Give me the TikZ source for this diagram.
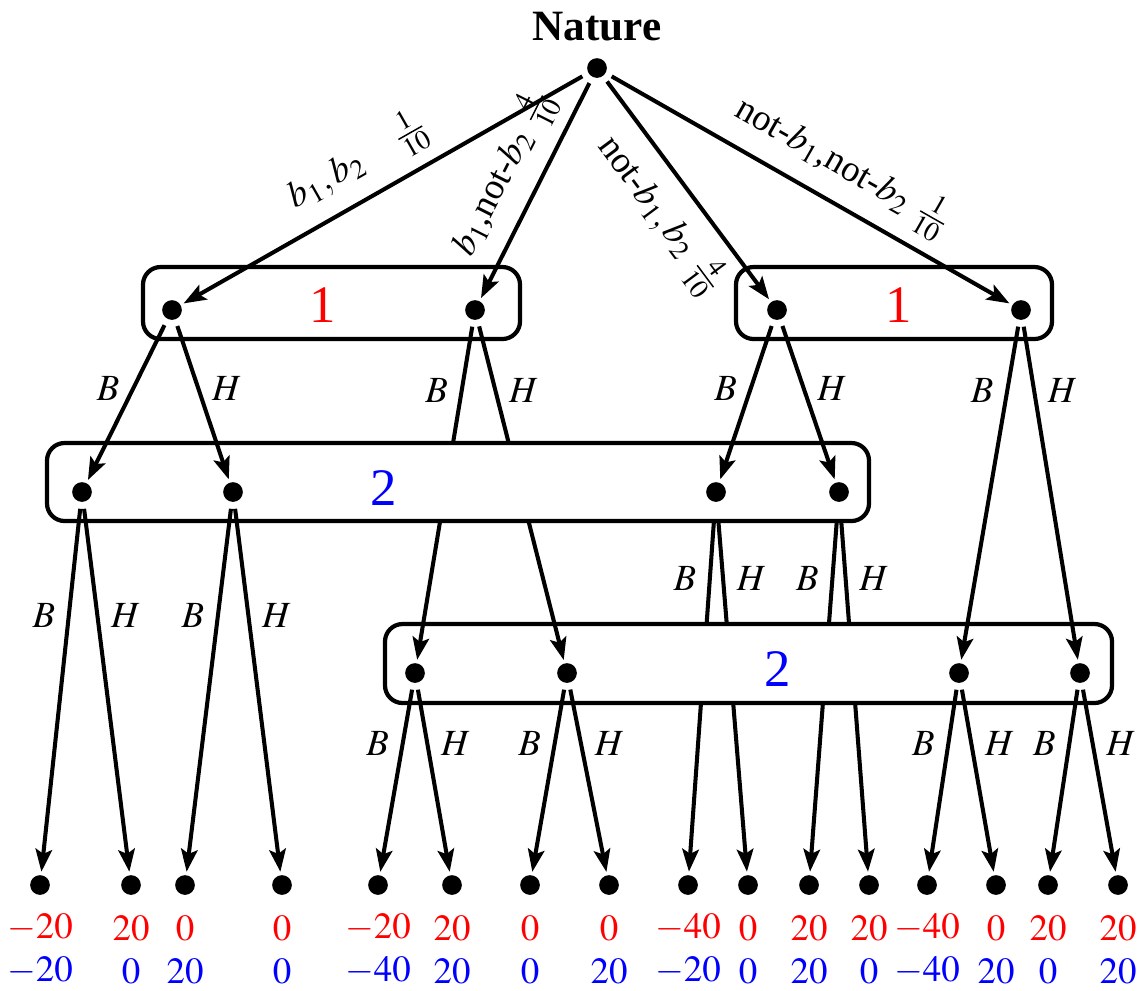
\documentclass[tikz,border=0pt]{standalone}
\usepackage{mathptmx}
\usepackage{fontspec}
\setmainfont{Liberation Serif}
\usetikzlibrary{arrows.meta}

% layers: lines that the white boxes hide go underneath
\pgfdeclarelayer{under}
\pgfdeclarelayer{lowbox}
\pgfdeclarelayer{cross}
\pgfdeclarelayer{upbox}
\pgfsetlayers{under,lowbox,cross,upbox,main}

\begin{document}
\begin{tikzpicture}[x=0.01cm, y=-0.01cm, line join=round,
    every node/.style={font=\fontsize{10.5}{12.6}\selectfont},
    dot/.style={circle, fill, inner sep=0pt, minimum size=5.6pt, outer sep=1pt},
    move/.style={-{Stealth[length=6.4pt,width=4.7pt,inset=1.3pt]}, line width=1.15pt, shorten <=1pt},
    infoset/.style={draw, line width=1.2pt, rounded corners=5pt},
    hider/.style={infoset, fill=white},
    player/.style={font=\fontsize{15}{18}\selectfont}]

  \useasboundingbox (0,0) rectangle (1146,990);

  % Nature
  \node[font=\bfseries\fontsize{12.3}{14.8}\selectfont] (nat) at (597,27) {Nature};
  \node[dot] (n0) at (597,68) {};

  % player 1
  \node[dot] (a1) at (172,310) {};
  \node[dot] (a2) at (475,310) {};
  \node[dot] (a3) at (777,310) {};
  \node[dot] (a4) at (1021,310) {};

  % player 2, first and second information set
  \node[dot] (u1) at (82,492) {};
  \node[dot] (u2) at (233,492) {};
  \node[dot] (u3) at (716,492) {};
  \node[dot] (u4) at (839,492) {};
  \node[dot] (l1) at (415,673) {};
  \node[dot] (l2) at (567,673) {};
  \node[dot] (l3) at (959,673) {};
  \node[dot] (l4) at (1080,673) {};

  % leaves with payoffs
  \foreach \i/\x/\u/\v in {1/40/-20/-20, 2/131/20/0, 3/185/0/20, 4/282/0/0,
      5/378/-20/-40, 6/452/20/20, 7/530/0/0, 8/609/0/20,
      9/688/-40/-20, 10/748/0/0, 11/809/20/20, 12/869/20/0,
      13/927/-40/-40, 14/996/0/20, 15/1048/20/0, 16/1118/20/20} {
    \node[dot] (t\i) at (\x,885) {};
    \node[red] (p\i) at (\x,928) {$\u$};
    \node[blue] (q\i) at (\x,971) {$\v$};
  }

  % chance moves
  \draw[move] (n0) -- node[pos=.52, above, sloped] {$b_1,b_2$\quad$\frac{1}{10}$} (a1);
  \draw[move] (n0) -- node[pos=.5, above, sloped] {$b_1$,not-$b_2$ $\frac{4}{10}$} (a2);
  \draw[move] (n0) -- node[pos=.52, below, sloped] {not-$b_1,b_2$ $\frac{4}{10}$} (a3);
  \draw[move] (n0) -- node[pos=.54, above, sloped] {not-$b_1$,not-$b_2$ $\frac{1}{10}$} (a4);

  % player 1 information sets
  \draw[infoset] (143,267) rectangle (520,339);
  \draw[infoset] (736,267) rectangle (1052,339);
  \node[player, red] (one1) at (323,305) {1};
  \node[player, red] (one2) at (899,305) {1};

  % moves of player 1
  \draw[move] (a1) -- node[pos=.42, left] {$B$} (u1);
  \draw[move] (a1) -- node[pos=.42, right] {$H$} (u2);
  \draw[move] (a3) -- node[pos=.42, left] {$B$} (u3);
  \draw[move] (a3) -- node[pos=.42, right] {$H$} (u4);
  \draw[move] (a4) -- node[pos=.2, left] {$B$} (l3);
  \draw[move] (a4) -- node[pos=.2, right] {$H$} (l4);
  \begin{pgfonlayer}{cross}
    \draw[move] (a2) -- node[pos=.2, left] {$B$} (l1);
    \draw[move] (a2) -- node[pos=.2, right] {$H$} (l2);
  \end{pgfonlayer}

  % player 2 information sets
  \begin{pgfonlayer}{upbox}
    \draw[hider] (47,443) rectangle (869,521);
  \end{pgfonlayer}
  \begin{pgfonlayer}{lowbox}
    \draw[hider] (385,624) rectangle (1112,703);
  \end{pgfonlayer}
  \node[player, blue] (two1) at (384,488) {2};
  \node[player, blue] (two2) at (778,669) {2};

  % moves of player 2
  \draw[move] (u1) -- node[pos=.3, left] {$B$} (t1);
  \draw[move] (u1) -- node[pos=.3, right] {$H$} (t2);
  \draw[move] (u2) -- node[pos=.3, left] {$B$} (t3);
  \draw[move] (u2) -- node[pos=.3, right] {$H$} (t4);
  \draw[move] (l1) -- node[pos=.31, left] {$B$} (t5);
  \draw[move] (l1) -- node[pos=.31, right] {$H$} (t6);
  \draw[move] (l2) -- node[pos=.31, left] {$B$} (t7);
  \draw[move] (l2) -- node[pos=.31, right] {$H$} (t8);
  \draw[move] (l3) -- node[pos=.31, left] {$B$} (t13);
  \draw[move] (l3) -- node[pos=.31, right] {$H$} (t14);
  \draw[move] (l4) -- node[pos=.31, left] {$B$} (t15);
  \draw[move] (l4) -- node[pos=.31, right] {$H$} (t16);
  \begin{pgfonlayer}{under}
    \draw[move] (u3) -- node[pos=.2, left] {$B$} (t9);
    \draw[move] (u3) -- node[pos=.2, right] {$H$} (t10);
    \draw[move] (u4) -- node[pos=.2, left] {$B$} (t11);
    \draw[move] (u4) -- node[pos=.2, right] {$H$} (t12);
  \end{pgfonlayer}
\end{tikzpicture}
\end{document}
